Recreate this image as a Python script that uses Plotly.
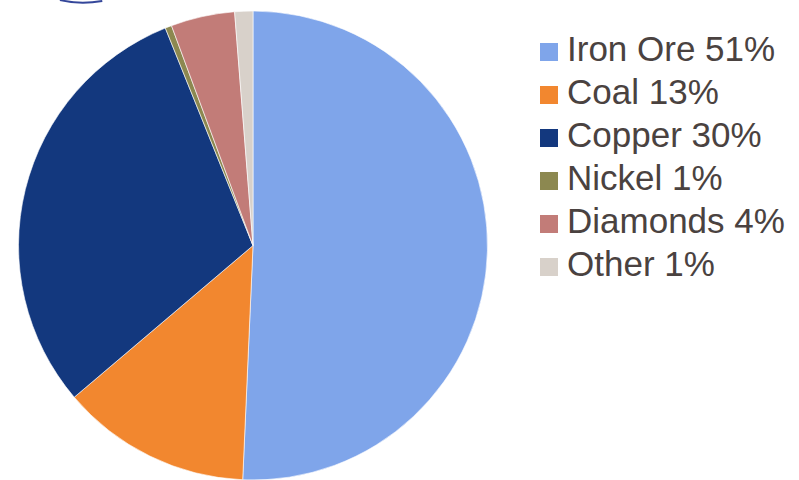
import plotly.graph_objects as go

labels = ["Iron Ore 51%", "Coal 13%", "Copper 30%", "Nickel 1%", "Diamonds 4%", "Other 1%"]
values = [50.7, 13.1, 30.1, 0.45, 4.4, 1.25]
colors = ["#7FA5EA", "#F2872F", "#13387E", "#8C8850", "#C27C78", "#D8D1CA"]
rows = list(range(len(labels)))

fig = go.Figure()
fig.add_trace(go.Pie(
    labels=labels,
    values=values,
    sort=False,
    direction="clockwise",
    rotation=0,
    marker=dict(colors=colors, line=dict(color="#FFFFFF", width=0.6)),
    textinfo="none",
    hoverinfo="label",
    showlegend=False,
    domain=dict(x=[0.0225, 0.6108], y=[0.0, 0.977]),
))

# legend drawn as a scatter of square swatches with labels
fig.add_trace(go.Scatter(
    x=[0] * len(labels),
    y=rows,
    mode="markers",
    marker=dict(symbol="square", size=18, color=colors, line=dict(width=0)),
    hoverinfo="skip",
    showlegend=False,
    cliponaxis=False,
))
fig.add_trace(go.Scatter(
    x=[18] * len(labels),
    y=rows,
    mode="text",
    text=labels,
    textposition="middle right",
    textfont=dict(family="Liberation Sans, Arial, sans-serif", size=35, color="#4A4240"),
    hoverinfo="skip",
    showlegend=False,
    cliponaxis=False,
))

fig.add_shape(type="path", xref="paper", yref="paper",
              path="M 0.075 1.0 Q 0.1 0.99 0.128 0.998",
              line=dict(color="#34469A", width=2))

fig.update_layout(
    width=799, height=480,
    margin=dict(l=0, r=0, t=0, b=0),
    paper_bgcolor="white",
    plot_bgcolor="rgba(0,0,0,0)",
    showlegend=False,
    xaxis=dict(visible=False, range=[-549, 250], domain=[0, 1], fixedrange=True),
    yaxis=dict(visible=False, range=[9.954, -1.209], domain=[0, 1], fixedrange=True),
)

fig.write_html("out.html")
